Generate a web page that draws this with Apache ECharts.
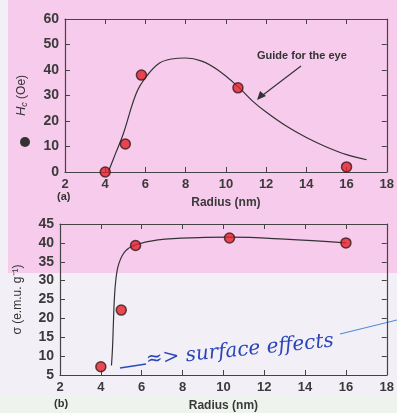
<!DOCTYPE html>
<html>
<head>
<meta charset="utf-8">
<script src="https://cdn.jsdelivr.net/npm/echarts@6/dist/echarts.min.js"></script>
<style>
  html, body { margin: 0; padding: 0; }
  #chart { width: 397px; height: 413px; }
</style>
</head>
<body>
<div id="chart"></div>
<script>
// (a) coercivity vs radius
const radiusA = [4, 5, 5.8, 10.6, 16]
const hcA = [0, 11, 38, 33, 2]
// hand-drawn guide for the eye
const guideX = [4.15, 4.5, 4.9, 5.55, 6.05, 6.7, 7.3, 8, 8.8, 9.6, 10.6, 11.3, 12, 13, 14, 15, 16, 17]
const guideY = [0, 7, 15, 31, 37.5, 42.7, 44.3, 44.7, 43.5, 40, 33.5, 28, 23.5, 18, 13.5, 9.8, 6.8, 4.8]

// (b) magnetisation vs radius
const radiusB = [4, 5, 5.7, 10.3, 16]
const sigmaB = [7.2, 22.2, 39.3, 41.3, 40]
const curveBX = [4.52, 4.57, 4.61, 4.66, 4.74, 4.88, 5.2, 5.7, 6.8, 8.8, 10.3, 13, 16]
const curveBY = [7.5, 12, 18, 25, 30.5, 34.5, 37.8, 39.5, 40.8, 41.4, 41.5, 41, 40]

const pair = (xs, ys) => xs.map((x, i) => [x, ys[i]])

const chart = echarts.init(document.getElementById('chart'))

const labelFont = { fontFamily: 'Liberation Sans', fontWeight: 'bold', fontSize: 13, color: '#3a3a3a' }
const axisLine = { show: true, onZero: false, lineStyle: { color: '#444', width: 1.2 } }
const tickIn = { show: true, inside: true, length: 5, lineStyle: { color: '#444' } }

const xAxisBase = (grid, position, withLabel) => ({
  type: 'value', gridIndex: grid, position, min: 2, max: 18, interval: 2,
  axisLine, axisTick: tickIn, splitLine: { show: false },
  axisLabel: withLabel ? { ...labelFont, margin: 6 } : { show: false },
  name: withLabel ? 'Radius (nm)' : '', nameLocation: 'middle', nameGap: 25,
  nameTextStyle: { ...labelFont, fontSize: 12 }
})

const yAxisBase = (grid, position, min, max, interval, withLabel, name) => ({
  type: 'value', gridIndex: grid, position, min, max, interval,
  axisLine, axisTick: tickIn, splitLine: { show: false },
  axisLabel: withLabel ? { ...labelFont, fontSize: 14, margin: 6 } : { show: false },
  name: withLabel ? name : '', nameLocation: 'middle', nameGap: 36,
  nameTextStyle: {
    ...labelFont, fontSize: 12, fontWeight: 'normal', color: '#333',
    rich: {
      i: { fontFamily: 'Liberation Sans', fontStyle: 'italic', fontSize: 13, color: '#333' },
      s: { fontFamily: 'Liberation Sans', fontStyle: 'italic', fontSize: 9, color: '#333', verticalAlign: 'bottom', padding: [6, 0, 0, 0] }
    }
  }
})

const dots = (xi, yi, data) => ({
  type: 'scatter', xAxisIndex: xi, yAxisIndex: yi, data,
  symbolSize: 10, z: 5,
  itemStyle: { color: '#e3202a', borderColor: '#3a1a1a', borderWidth: 1.5 }
})

const curve = (xi, yi, data) => ({
  type: 'line', xAxisIndex: xi, yAxisIndex: yi, data, smooth: 0.4,
  symbol: 'none', lineStyle: { color: '#333', width: 1.2 }
})

chart.setOption({
  backgroundColor: '#f3eff6',
  animation: false,
  grid: [
    { left: 65, right: 8, top: 19, height: 153 },
    { left: 60, right: 7, top: 224, height: 155 }
  ],
  xAxis: [
    xAxisBase(0, 'bottom', true),
    xAxisBase(0, 'top', false),
    xAxisBase(1, 'bottom', true),
    xAxisBase(1, 'top', false)
  ],
  yAxis: [
    yAxisBase(0, 'left', 0, 60, 10, true, '{i|H}{s|c} (Oe)'),
    yAxisBase(0, 'right', 0, 60, 10, false),
    yAxisBase(1, 'left', 5, 45, 5, true, 'σ (e.m.u. g⁻¹)'),
    yAxisBase(1, 'right', 5, 45, 5, false)
  ],
  series: [
    curve(0, 0, pair(guideX, guideY)),
    dots(0, 0, pair(radiusA, hcA)),
    curve(2, 2, pair(curveBX, curveBY)),
    dots(2, 2, pair(radiusB, sigmaB))
  ],
  graphic: [
    { type: 'rect', z: -10, silent: true, shape: { x: 8, y: 0, width: 389, height: 273 }, style: { fill: '#f6cbec' } },
    { type: 'rect', z: -10, silent: true, shape: { x: 0, y: 395, width: 397, height: 18 }, style: { fill: '#eef3ee' } },
    { type: 'circle', shape: { cx: 25, cy: 142, r: 5 }, style: { fill: '#333' } },
    { type: 'text', left: 57, top: 191, style: { text: '(a)', font: 'bold 11px Liberation Sans', fill: '#333' } },
    { type: 'text', left: 54, top: 398, style: { text: '(b)', font: 'bold 11px Liberation Sans', fill: '#333' } },
    { type: 'text', left: 257, top: 50, style: { text: 'Guide for the eye', font: 'bold 11px Liberation Sans', fill: '#333' } },
    { type: 'line', shape: { x1: 301, y1: 66, x2: 259, y2: 98 }, style: { stroke: '#333', lineWidth: 1.2 } },
    { type: 'polygon', shape: { points: [[257, 100], [260, 91], [266, 96]] }, style: { fill: '#333' } },
    { type: 'line', shape: { x1: 120, y1: 368, x2: 146, y2: 364 }, style: { stroke: '#2a4cc0', lineWidth: 1.5 } },
    { type: 'text', x: 145, y: 350, rotation: 0.1, style: { text: '≈> surface effects', font: 'italic 20px DejaVu Serif', fill: '#2a45b8' } },
    { type: 'line', shape: { x1: 340, y1: 334, x2: 397, y2: 320 }, style: { stroke: '#4a8ee0', lineWidth: 1.2 } }
  ]
})
</script>
</body>
</html>
